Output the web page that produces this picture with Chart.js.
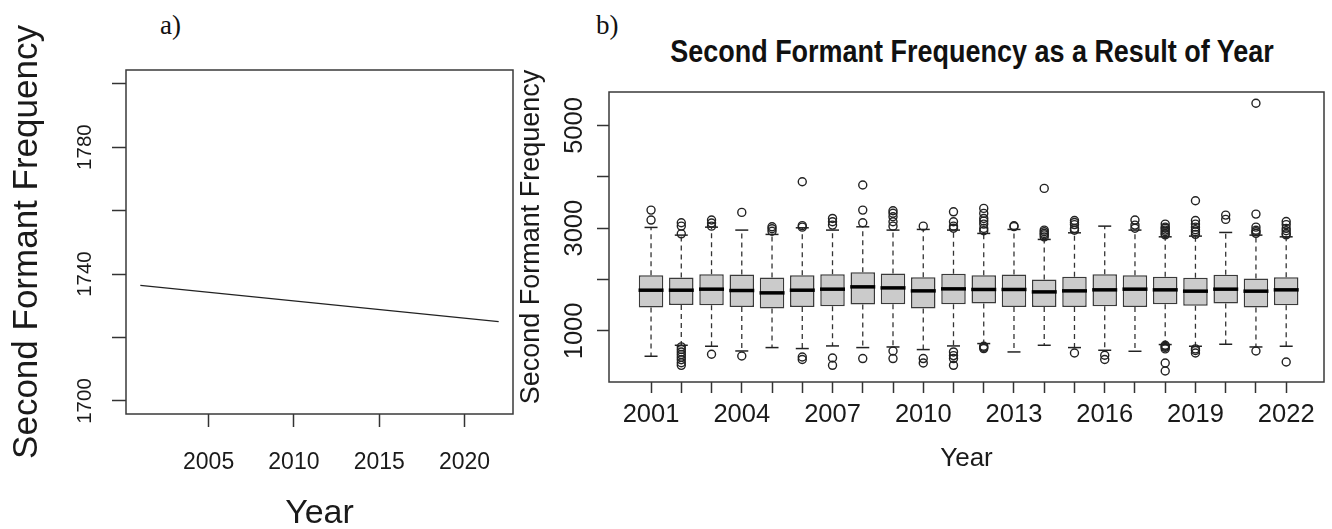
<!DOCTYPE html>
<html>
<head>
<meta charset="utf-8">
<script src="https://cdn.jsdelivr.net/npm/chart.js@4.4.1/dist/chart.umd.min.js"></script>
<style>
  html, body { margin: 0; padding: 0; background: #fff; overflow: hidden; }
  body { width: 1332px; height: 529px; position: relative; }
  canvas { position: absolute; top: 0; }
  #chartA { left: 0; }
  #chartB { left: 500px; }
  .tag { position: absolute; top: 12px; font: 27px "Liberation Serif", "Times New Roman", serif; color: #111; line-height: 27px; }
  #title { position: absolute; left: 972px; top: 36px; font: bold 31px "Liberation Sans", Arial, sans-serif; color: #111;
           white-space: nowrap; line-height: 31px; transform: translateX(-50%) scaleX(0.87); }
</style>
</head>
<body>
<div class="tag" style="left:160px">a)</div>
<div class="tag" style="left:596px">b)</div>
<div id="title">Second Formant Frequency as a Result of Year</div>
<canvas id="chartA" width="540" height="529"></canvas>
<canvas id="chartB" width="840" height="529"></canvas>
<script>
// a) fitted line
const fitYears = [2001, 2022];
const fitF2 = [1736.4, 1725.0];
const yearTicksA = [2005, 2010, 2015, 2020];
const f2TicksA = [1700, 1720, 1740, 1760, 1780, 1800];
const f2LabelsA = [1700, 1740, 1780];

// b) boxplots per year
const boxYears = [2001, 2002, 2003, 2004, 2005, 2006, 2007, 2008, 2009, 2010, 2011,
                  2012, 2013, 2014, 2015, 2016, 2017, 2018, 2019, 2020, 2021, 2022];
const q1 = [1456, 1507, 1501, 1468, 1436, 1468, 1481, 1514, 1520, 1436, 1520,
            1533, 1468, 1468, 1468, 1481, 1468, 1520, 1488, 1533, 1456, 1501];
const median = [1793, 1793, 1813, 1787, 1741, 1793, 1813, 1858, 1838, 1780, 1819,
                1807, 1807, 1760, 1780, 1800, 1813, 1800, 1774, 1813, 1774, 1800];
const q3 = [2086, 2041, 2105, 2099, 2041, 2086, 2105, 2144, 2118, 2047, 2111,
            2086, 2099, 2002, 2053, 2105, 2086, 2053, 2034, 2092, 2021, 2047];
const lowerWhisker = [507, 721, 702, 610, 676, 657, 708, 676, 688, 637, 708,
                      754, 591, 721, 676, 624, 604, 735, 702, 741, 688, 702];
const upperWhisker = [3015, 2865, 3020, 2963, 2879, 3008, 2963, 3027, 2963, 2976, 2963,
                      2898, 2976, 2781, 2910, 3040, 2963, 2832, 2846, 2917, 2865, 2832];
const outliers = [
    [3158, 3352],
    [2890, 3041, 3105, 690, 640, 590, 540, 490, 440, 380, 330],
    [3040, 3100, 3160, 546],
    [3307, 513],
    [2940, 2990, 3027],
    [3020, 3050, 3904, 493, 443],
    [3060, 3125, 3190, 474, 331],
    [3105, 3352, 3840, 462],
    [3040, 3125, 3222, 3290, 3340, 610, 462],
    [3040, 462, 376],
    [3000, 3040, 3125, 3319, 591, 520, 462, 331],
    [2950, 2996, 3080, 3140, 3190, 3288, 3385, 702, 680, 657],
    [3030, 3047],
    [2830, 2870, 2898, 2930, 2963, 3775],
    [2960, 2996, 3070, 3110, 3150, 571],
    [527, 443],
    [3000, 3060, 3158],
    [2870, 2898, 2930, 2963, 3000, 3020, 3080, 720, 702, 680, 650, 376, 221],
    [2880, 2930, 2970, 3020, 3080, 3150, 3534, 650, 620, 571],
    [3171, 3255],
    [2900, 2930, 2960, 3020, 3274, 5432, 610],
    [2870, 2898, 2950, 2996, 3070, 3130, 396]
];
const yearLabelsB = [2001, 2004, 2007, 2010, 2013, 2016, 2019, 2022];
const f2TicksB = [1000, 2000, 3000, 4000, 5000];
const f2LabelsB = [1000, 3000, 5000];

const FONT = '"Liberation Sans", Arial, sans-serif';
const INK = '#1a1a1a';

// box around the plot region, like R's bty="o"
const framePlugin = {
    id: 'frame',
    afterDraw(chart) {
        const a = chart.chartArea, ctx = chart.ctx;
        ctx.save();
        ctx.strokeStyle = '#3a3a3a';
        ctx.lineWidth = 1.5;
        ctx.strokeRect(a.left, a.top, a.right - a.left, a.bottom - a.top);
        ctx.restore();
    }
};

function tickGrid(len) {
    return { drawOnChartArea: false, drawTicks: true, tickLength: len, tickColor: '#333', tickWidth: 1.5, color: '#333' };
}

// a)
new Chart(document.getElementById('chartA'), {
    type: 'line',
    data: {
        datasets: [{
            data: fitYears.map((x, i) => ({ x: x, y: fitF2[i] })),
            borderColor: '#222', borderWidth: 1.3, pointRadius: 0, fill: false, tension: 0
        }]
    },
    options: {
        responsive: false, animation: false, events: [],
        layout: { padding: { top: 70, right: 27, left: 0, bottom: 0 } },
        plugins: { legend: { display: false }, tooltip: { enabled: false } },
        scales: {
            x: {
                type: 'linear', min: 2000.16, max: 2022.84, offset: false,
                afterBuildTicks: s => { s.ticks = yearTicksA.map(v => ({ value: v })); },
                afterFit: s => { s.height = 115; },
                border: { display: false },
                grid: tickGrid(13),
                ticks: { maxRotation: 0, autoSkip: false, padding: 22, color: INK,
                         font: { family: FONT, size: 23 }, callback: v => String(v) },
                title: { display: true, text: 'Year', color: INK,
                         font: { family: FONT, size: 34, lineHeight: 1 }, padding: { top: 0, bottom: -2 } }
            },
            y: {
                type: 'linear', min: 1695.9, max: 1804.3,
                afterBuildTicks: s => { s.ticks = f2TicksA.map(v => ({ value: v })); },
                afterFit: s => { s.width = 126; },
                border: { display: false },
                grid: tickGrid(14),
                ticks: { minRotation: 90, maxRotation: 90, crossAlign: 'center', padding: 4, color: INK,
                         font: { family: FONT, size: 20.5 },
                         callback: v => f2LabelsA.includes(v) ? String(v) : '' },
                title: { display: true, text: 'Second Formant Frequency', color: INK,
                         font: { family: FONT, size: 35, lineHeight: 1 }, padding: { top: 10, bottom: 0 } }
            }
        }
    },
    plugins: [framePlugin]
});

// b) whiskers as dashed segments split by gaps
const whiskerPts = [];
boxYears.forEach((yr, i) => {
    whiskerPts.push({ x: yr, y: q3[i] }, { x: yr, y: upperWhisker[i] }, { x: yr, y: null },
                    { x: yr, y: q1[i] }, { x: yr, y: lowerWhisker[i] }, { x: yr, y: null });
});
const capPts = boxYears.flatMap((yr, i) => [{ x: yr, y: upperWhisker[i] }, { x: yr, y: lowerWhisker[i] }]);
const medianPts = boxYears.map((yr, i) => ({ x: yr, y: median[i] }));
const outlierPts = boxYears.flatMap((yr, i) => outliers[i].map(v => ({ x: yr, y: v })));

new Chart(document.getElementById('chartB'), {
    type: 'bar',
    data: {
        datasets: [
            {
                type: 'bar', order: 5,
                data: boxYears.map((yr, i) => ({ x: yr, y: [q1[i], q3[i]] })),
                backgroundColor: '#cbcbcb', borderColor: '#3a3a3a', borderWidth: 1.5,
                borderSkipped: false, barPercentage: 0.81, categoryPercentage: 1
            },
            {
                type: 'line', order: 4, data: whiskerPts,
                borderColor: '#333', borderWidth: 1.3, borderDash: [5, 4],
                pointRadius: 0, spanGaps: false, fill: false
            },
            {
                type: 'scatter', order: 3, data: capPts,
                pointStyle: 'line', pointRadius: 6.5, pointBorderWidth: 1.5, pointBorderColor: '#222'
            },
            {
                type: 'scatter', order: 2, data: medianPts,
                pointStyle: 'line', pointRadius: 12.5, pointBorderWidth: 3.5, pointBorderColor: '#000'
            },
            {
                type: 'scatter', order: 1, data: outlierPts,
                pointStyle: 'circle', pointRadius: 4, pointBorderWidth: 1.4,
                pointBorderColor: '#222', pointBackgroundColor: 'rgba(0,0,0,0)'
            }
        ]
    },
    options: {
        responsive: false, animation: false, events: [],
        layout: { padding: { top: 92, right: 4, left: 0, bottom: 0 } },
        plugins: { legend: { display: false }, tooltip: { enabled: false } },
        scales: {
            x: {
                type: 'linear', min: 1999.61, max: 2023.25, offset: false,
                afterBuildTicks: s => { s.ticks = boxYears.map(v => ({ value: v })); },
                afterFit: s => { s.height = 147; },
                border: { display: false },
                grid: Object.assign(tickGrid(11), { offset: false }),
                ticks: { maxRotation: 0, autoSkip: false, padding: 7, color: INK,
                         font: { family: FONT, size: 25.5 },
                         callback: v => yearLabelsB.includes(v) ? String(v) : '' },
                title: { display: true, text: 'Year', color: INK,
                         font: { family: FONT, size: 26, lineHeight: 1 }, padding: { top: 0, bottom: 57 } }
            },
            y: {
                type: 'linear', min: 6, max: 5651,
                afterBuildTicks: s => { s.ticks = f2TicksB.map(v => ({ value: v })); },
                afterFit: s => { s.width = 109; },
                border: { display: false },
                grid: tickGrid(12),
                ticks: { minRotation: 90, maxRotation: 90, crossAlign: 'center', padding: -6.4, color: INK,
                         font: { family: FONT, size: 25.5 },
                         callback: v => f2LabelsB.includes(v) ? String(v) : '' },
                title: { display: true, text: 'Second Formant Frequency', color: INK,
                         font: { family: FONT, size: 27, lineHeight: 1 }, padding: { top: 18.5, bottom: 0 } }
            }
        }
    },
    plugins: [framePlugin]
});
</script>
</body>
</html>
